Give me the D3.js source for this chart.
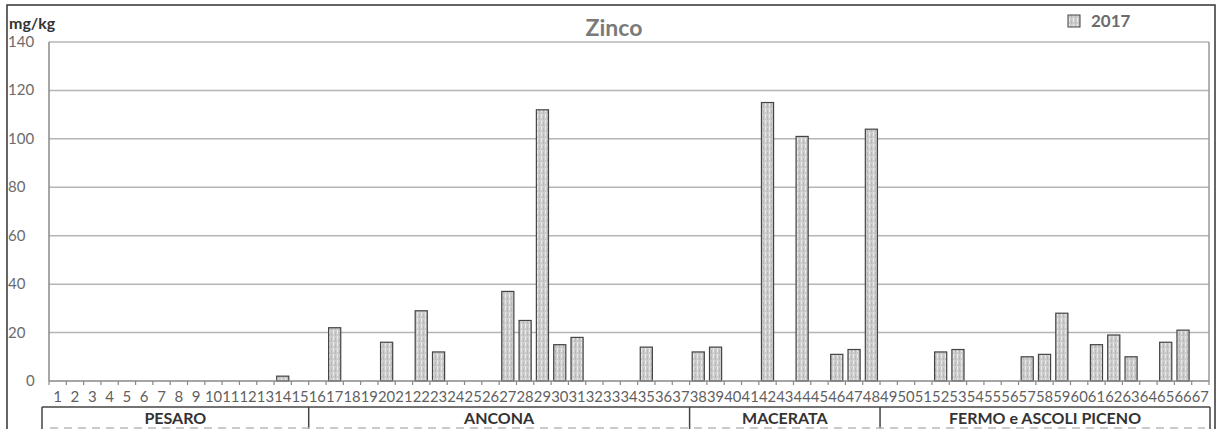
<!DOCTYPE html>
<html><head><meta charset="utf-8">
<script src="https://cdn.jsdelivr.net/npm/d3@7"></script>
<style>body{margin:0;background:#fff}svg{display:block}</style>
</head><body>
<svg id="c" width="1220" height="429"></svg>
<script>
const categories = d3.range(1, 68).map(String);
const values2017 = [0,0,0,0,0,0,0,0,0,0,0,0,0,2,0,0,22,0,0,16,0,29,12,0,0,0,37,25,112,15,18,0,0,0,14,0,0,12,14,0,0,115,0,101,0,11,13,104,0,0,0,12,13,0,0,0,10,11,28,0,15,19,10,0,16,21,0];
const yTicks = [0,20,40,60,80,100,120,140];
const groups = [{name:"PESARO",from:1,to:15},{name:"ANCONA",from:16,to:37},{name:"MACERATA",from:38,to:48},{name:"FERMO e ASCOLI PICENO",from:49,to:67}];
const seriesName = "2017";

const svg = d3.select("#c");
const font = "Lato, 'Open Sans', sans-serif";
const L = 49, R = 1209, T = 42, B = 381;
const x = d3.scaleBand().domain(categories).range([L, R]).paddingInner(0.3).paddingOuter(0.15);
const xs = d3.scaleBand().domain(categories).range([L, R]);
const y = d3.scaleLinear().domain([0, 140]).range([B, T]);

// pattern
const defs = svg.append("defs");
const pat = defs.append("pattern").attr("id","vp").attr("patternUnits","userSpaceOnUse").attr("width",4).attr("height",6);
pat.append("rect").attr("width",4).attr("height",6).attr("fill","#cccccc");
pat.append("line").attr("x1",1.5).attr("x2",1.5).attr("y1",0).attr("y2",4).attr("stroke","#eaeaea").attr("stroke-width",1);
pat.append("line").attr("x1",3.5).attr("x2",3.5).attr("y1",2).attr("y2",6).attr("stroke","#b4b4b4").attr("stroke-width",0.8);

// outer border
svg.append("rect").attr("x",7).attr("y",5).attr("width",1208).attr("height",440).attr("fill","none").attr("stroke","#333").attr("stroke-width",1.5);

// grid
svg.append("g").selectAll("line").data(yTicks.filter(d=>d>0)).join("line")
  .attr("x1",L).attr("x2",R).attr("y1",d=>y(d)).attr("y2",d=>y(d))
  .attr("stroke","#b5b5b5").attr("stroke-width",1.5);
svg.append("line").attr("x1",R).attr("x2",R).attr("y1",T).attr("y2",B).attr("stroke","#999").attr("stroke-width",1.5);

// y labels
svg.append("g").selectAll("text").data(yTicks).join("text")
  .attr("x",d=> d===0 ? 26 : 8).attr("y",d=>y(d)+5).attr("text-anchor","start")
  .attr("font-family",font).attr("font-size",15).attr("fill","#6b6b6b").text(d=>d);

// bars
svg.append("g").selectAll("rect").data(categories.map((c,i)=>({c,v:values2017[i]})).filter(d=>d.v>0)).join("rect")
  .attr("x",d=>x(d.c)).attr("width",x.bandwidth())
  .attr("y",d=>y(d.v)).attr("height",d=>y(0)-y(d.v))
  .attr("fill","url(#vp)").attr("stroke","#444").attr("stroke-width",1.2);

// axes
svg.append("line").attr("x1",L).attr("x2",L).attr("y1",T).attr("y2",B).attr("stroke","#888").attr("stroke-width",1.5);
svg.append("line").attr("x1",L).attr("x2",R).attr("y1",B).attr("y2",B).attr("stroke","#888").attr("stroke-width",1.5);
svg.append("g").selectAll("line").data(categories).join("line")
  .attr("x1",d=>xs(d)).attr("x2",d=>xs(d)).attr("y1",B).attr("y2",B+4).attr("stroke","#888").attr("stroke-width",1.2);
svg.append("line").attr("x1",R).attr("x2",R).attr("y1",B).attr("y2",B+4).attr("stroke","#888").attr("stroke-width",1.2);

svg.append("g").selectAll("text").data(categories).join("text")
  .attr("x",d=>xs(d)+xs.bandwidth()/2).attr("y",B+21).attr("text-anchor","middle")
  .attr("font-family",font).attr("font-size",15).attr("fill","#5f5f5f")
  .each(function(d){ if(d.length>1) d3.select(this).attr("textLength",17.2).attr("lengthAdjust","spacingAndGlyphs"); })
  .text(d=>d);

// group table
const tb = svg.append("g");
const tTop = 407;
tb.append("line").attr("x1",42).attr("x2",1210).attr("y1",tTop).attr("y2",tTop).attr("stroke","#444").attr("stroke-width",1.5);
const edges = [42].concat(groups.slice(0,-1).map(g=>xs(String(g.to))+xs.bandwidth())).concat([1210]);
tb.selectAll("line.v").data(edges).join("line").attr("class","v")
  .attr("x1",d=>d).attr("x2",d=>d).attr("y1",tTop).attr("y2",429).attr("stroke","#444").attr("stroke-width",1.5);
tb.append("line").attr("x1",50).attr("x2",1205).attr("y1",428).attr("y2",428).attr("stroke","#bbb").attr("stroke-width",1.5).attr("stroke-dasharray","8,6");
tb.selectAll("text").data(groups).join("text")
  .attr("x",(g,i)=>(edges[i]+edges[i+1])/2).attr("y",tTop+17).attr("text-anchor","middle")
  .attr("font-family",font).attr("font-weight","bold").attr("font-size",16).attr("fill","#333").text(g=>g.name);

// title, unit, legend
svg.append("text").attr("x",614).attr("y",36).attr("text-anchor","middle").attr("font-family",font)
  .attr("font-weight","bold").attr("font-size",23).attr("fill","#7a7a7a").text("Zinco");
svg.append("text").attr("x",9).attr("y",29).attr("font-family",font).attr("font-weight","bold")
  .attr("font-size",16).attr("fill","#333").text("mg/kg");
svg.append("rect").attr("x",1068).attr("y",15).attr("width",12).attr("height",12).attr("fill","url(#vp)").attr("stroke","#444").attr("stroke-width",1);
svg.append("text").attr("x",1091).attr("y",27).attr("font-family",font).attr("font-weight","bold")
  .attr("font-size",17).attr("fill","#6b6b6b").text(seriesName);
</script>
</body></html>
